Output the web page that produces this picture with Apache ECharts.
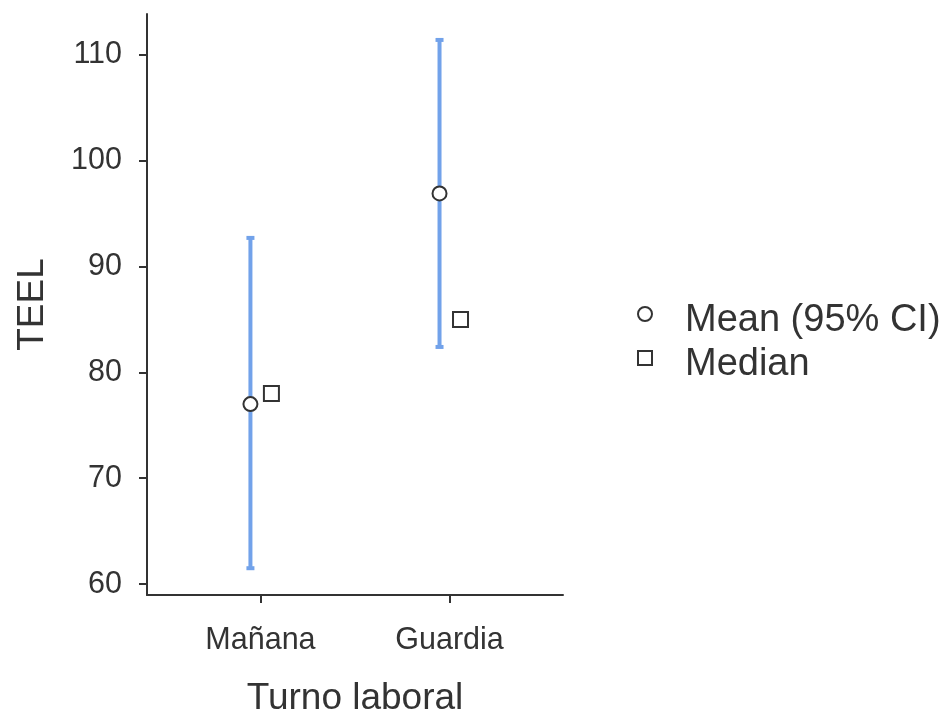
<!DOCTYPE html>
<html>
<head>
<meta charset="utf-8">
<script src="https://cdn.jsdelivr.net/npm/echarts@6/dist/echarts.min.js"></script>
<style>
html,body{margin:0;padding:0;background:#fff;}
#chart{width:943px;height:722px;}
</style>
</head>
<body>
<div id="chart"></div>
<script>
// ---- data ----
var categories = ['Mañana', 'Guardia'];
var means = [77.0, 96.9];
var ciLower = [61.5, 82.4];
var ciUpper = [92.7, 111.4];
var medians = [78.0, 85.0];
var yTicks = [60, 70, 80, 90, 100, 110];
var xTicks = [1, 2];

// ---- styling ----
var FONT = '"Liberation Sans", Arial, sans-serif';
var TXT = '#333333';
var BLUE = '#72A2EA';
var meanOffset = -0.053;
var medianOffset = 0.058;

var chart = echarts.init(document.getElementById('chart'), null, {renderer: 'canvas'});

var errData = categories.map(function (c, i) { return [i + 1, ciLower[i], ciUpper[i]]; });
var meanData = categories.map(function (c, i) { return [i + 1 + meanOffset, means[i]]; });
var medianData = categories.map(function (c, i) { return [i + 1 + medianOffset, medians[i]]; });

var option = {
  backgroundColor: '#ffffff',
  animation: false,
  textStyle: {fontFamily: FONT},
  grid: {left: 147, right: 380, top: 14, bottom: 124, containLabel: false},
  legend: {
    orient: 'vertical',
    left: 632,
    top: 297,
    itemWidth: 14,
    itemHeight: 14,
    itemGap: 6,
    selectedMode: false,
    formatter: function (name) { return '{t|' + name + '}'; },
    textStyle: {
      fontFamily: FONT, fontSize: 38, color: TXT, padding: [0, 0, 0, 28],
      rich: {t: {fontFamily: FONT, fontSize: 38, color: TXT, lineHeight: 52, verticalAlign: 'bottom'}}
    },
    data: [
      {name: 'Mean (95% CI)', icon: 'circle', itemStyle: {color: '#fff', borderColor: '#333', borderWidth: 2}},
      {name: 'Median', icon: 'rect', itemStyle: {color: '#fff', borderColor: '#333', borderWidth: 2}}
    ]
  },
  xAxis: {
    type: 'value',
    min: 0.4,
    max: 2.6,
    name: 'Turno laboral',
    nameLocation: 'middle',
    nameGap: 85,
    nameTextStyle: {fontFamily: FONT, fontSize: 37, color: TXT},
    splitLine: {show: false},
    axisLine: {show: true, lineStyle: {color: '#333', width: 2}},
    axisTick: {show: true, length: 8, lineStyle: {color: '#333', width: 2}, customValues: xTicks},
    axisLabel: {
      fontFamily: FONT, fontSize: 30.5, color: TXT, margin: 30,
      customValues: xTicks,
      formatter: function (v) { return categories[Math.round(v) - 1]; }
    }
  },
  yAxis: {
    type: 'value',
    min: 58.97,
    max: 113.85,
    name: 'TEEL',
    nameLocation: 'middle',
    nameGap: 96,
    nameRotate: 90,
    nameTextStyle: {fontFamily: FONT, fontSize: 37, color: TXT},
    splitLine: {show: false},
    axisLine: {show: true, lineStyle: {color: '#333', width: 2}},
    axisTick: {show: true, length: 8, lineStyle: {color: '#333', width: 2}, customValues: yTicks},
    axisLabel: {fontFamily: FONT, fontSize: 30.5, color: TXT, margin: 25, customValues: yTicks}
  },
  series: [
    {
      type: 'custom',
      name: 'CI',
      silent: true,
      z: 1,
      data: errData,
      renderItem: function (params, api) {
        var x = api.value(0) + meanOffset;
        var lo = api.coord([x, api.value(1)]);
        var hi = api.coord([x, api.value(2)]);
        var hw = 4;
        var st = {stroke: BLUE, lineWidth: 4};
        return {
          type: 'group',
          children: [
            {type: 'line', shape: {x1: lo[0], y1: lo[1], x2: hi[0], y2: hi[1]}, style: st},
            {type: 'line', shape: {x1: lo[0] - hw, y1: lo[1], x2: lo[0] + hw, y2: lo[1]}, style: st},
            {type: 'line', shape: {x1: hi[0] - hw, y1: hi[1], x2: hi[0] + hw, y2: hi[1]}, style: st}
          ]
        };
      }
    },
    {
      type: 'scatter',
      name: 'Mean (95% CI)',
      symbol: 'circle',
      symbolSize: 14,
      z: 3,
      data: meanData,
      itemStyle: {color: '#fff', borderColor: '#333', borderWidth: 2, opacity: 1}
    },
    {
      type: 'scatter',
      name: 'Median',
      symbol: 'rect',
      symbolSize: 15,
      z: 3,
      data: medianData,
      itemStyle: {color: '#fff', borderColor: '#333', borderWidth: 2, opacity: 1}
    }
  ]
};
chart.setOption(option);
</script>
</body>
</html>
